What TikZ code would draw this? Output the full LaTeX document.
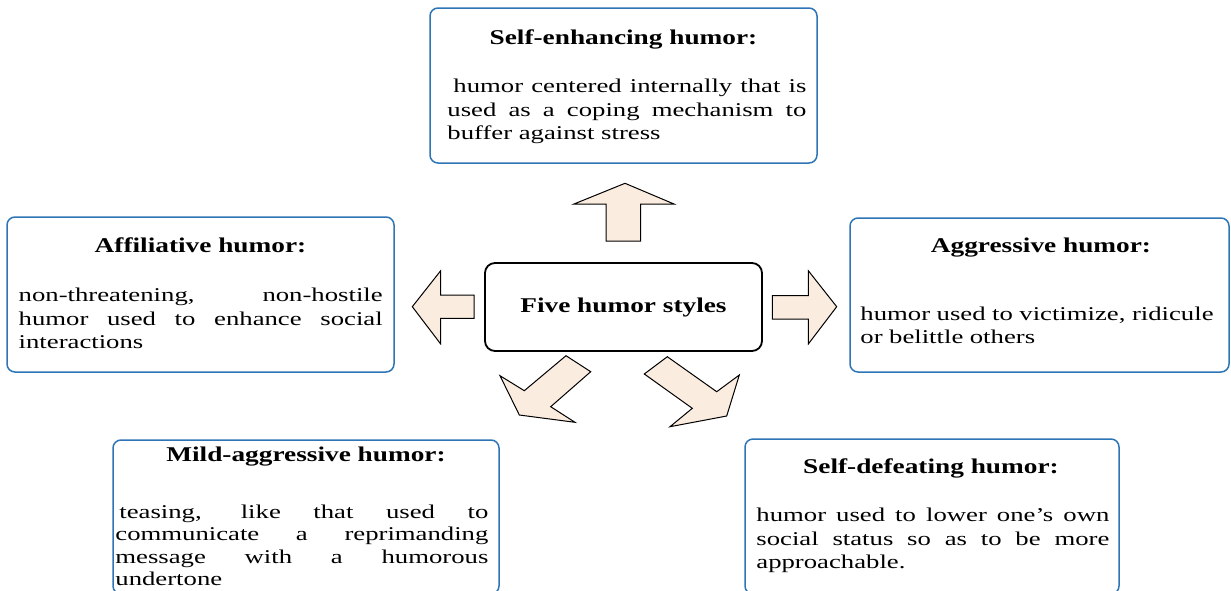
\documentclass[tikz,border=0pt]{standalone}
\usepackage{fontspec}
\setmainfont[FakeStretch=1.37]{Liberation Serif}
\newfontfamily\headfont[FakeStretch=1.3]{Liberation Serif}
\definecolor{boxblue}{RGB}{46,117,182}
\definecolor{arrowfill}{RGB}{251,236,224}

\begin{document}
\begin{tikzpicture}[x=0.5pt,y=-0.5pt,
    stylebox/.style={draw=boxblue,line width=0.75pt,rounded corners=4pt,inner sep=0pt},
    headtext/.style={anchor=base,inner sep=0pt,font=\headfont\bfseries\fontsize{10.5}{12}\selectfont},
    bodytext/.style={anchor=base west,inner sep=0pt,font=\fontsize{9.75}{11.75}\selectfont},
    blockarrow/.style={draw=black,fill=arrowfill,line width=0.5pt,line join=miter}]
    \clip (0,0) rectangle (1231,590);

    % centre
    \node[draw,line width=0.9pt,rounded corners=5pt,minimum width=138.5pt,minimum height=44pt,
          font=\headfont\bfseries\fontsize{10.5}{12}\selectfont] (core) at (623.5,307) {Five humor styles};

    % the five boxes
    \node[stylebox,minimum width=193.5pt,minimum height=77.5pt] (selfenh) at (623.5,85.5) {};
    \node[stylebox,minimum width=193.5pt,minimum height=77.5pt] (affil) at (200.5,294.5) {};
    \node[stylebox,minimum width=189.5pt,minimum height=77pt] (aggr) at (1039.5,295) {};
    \node[stylebox,minimum width=193pt,minimum height=77pt] (mildaggr) at (306,517) {};
    \node[stylebox,minimum width=187pt,minimum height=77.5pt] (selfdef) at (932,516.5) {};

    \node[headtext] (selfenh-head) at (623.5,44) {Self-enhancing humor:};
    \node[bodytext,text width=179.5pt,align=justify] (selfenh-text) at (447,92.5)
        {\hspace*{3pt}humor centered internally that is\linebreak used as a coping mechanism to\linebreak buffer against stress};

    \node[headtext] (affil-head) at (200.5,252.3) {Affiliative humor:};
    \node[bodytext,text width=182pt,align=justify] (affil-text) at (18.3,301.7)
        {non-threatening, non-hostile\linebreak humor used to enhance social\linebreak interactions};

    \node[headtext] (aggr-head) at (1041,252.3) {Aggressive humor:};
    \node[bodytext,text width=186pt,align=left] (aggr-text) at (860,320)
        {humor used to victimize, ridicule\\ or belittle others};

    \node[headtext] (mildaggr-head) at (306,461) {Mild-aggressive humor:};
    \node[bodytext,text width=186.5pt,align=justify,font=\fontsize{9.75}{11.3}\selectfont] (mildaggr-text) at (115,518)
        {\hspace*{2pt}teasing, like that used to\linebreak communicate a reprimanding\linebreak message with a humorous\linebreak undertone};

    \node[headtext] (selfdef-head) at (931,473.3) {Self-defeating humor:};
    \node[bodytext,text width=176.5pt,align=justify] (selfdef-text) at (756,521.7)
        {humor used to lower one’s own\linebreak social status so as to be more\linebreak approachable.};

    % block arrows
    \filldraw[blockarrow] (606,241) -- (606,204) -- (574,204) -- (625,183.3) -- (674,204) -- (640.7,204) -- (640.7,241) -- cycle;
    \filldraw[blockarrow] (474,295) -- (440.7,295) -- (440.7,270.7) -- (412.3,306.7) -- (440.7,344) -- (440.7,318.3) -- (474,318.3) -- cycle;
    \filldraw[blockarrow] (772.3,295.7) -- (808.3,295.7) -- (808.3,270.7) -- (836.7,306.7) -- (808.3,344) -- (808.3,319) -- (772.3,319) -- cycle;
    \filldraw[blockarrow] (566,355.7) -- (590.7,371.7) -- (550.7,406.7) -- (575,422.3) -- (519.3,415) -- (500,375.7) -- (524.3,390.7) -- cycle;
    \filldraw[blockarrow] (644.3,374) -- (667.3,356.7) -- (716.7,391.7) -- (739.3,375) -- (726.7,416) -- (670,426.7) -- (692.3,408.3) -- cycle;
\end{tikzpicture}
\end{document}
